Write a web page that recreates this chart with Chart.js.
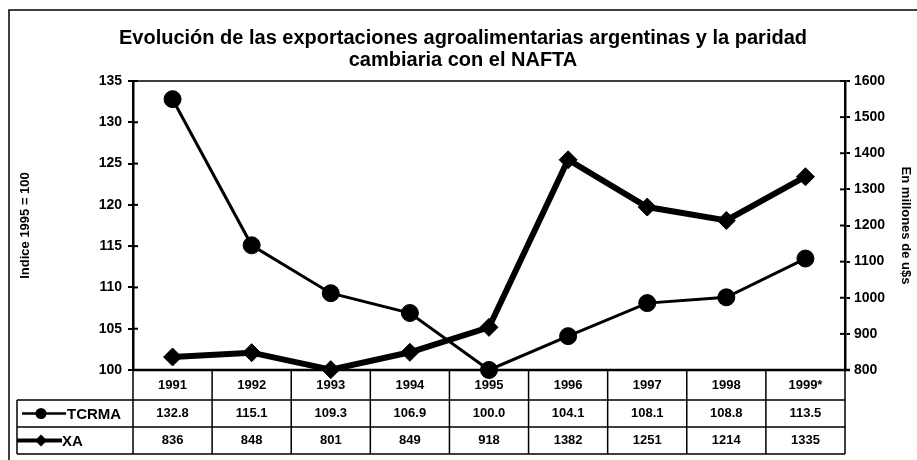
<!DOCTYPE html>
<html>
<head>
<meta charset="utf-8">
<script src="https://cdn.jsdelivr.net/npm/chart.js@4.4.0/dist/chart.umd.min.js"></script>
<style>
  html, body { margin: 0; padding: 0; background: #fff; }
</style>
</head>
<body>
<canvas id="myChart" width="917" height="460"></canvas>
<script>
const years = ["1991", "1992", "1993", "1994", "1995", "1996", "1997", "1998", "1999*"];
const tcrma = [132.8, 115.1, 109.3, 106.9, 100.0, 104.1, 108.1, 108.8, 113.5];
const xa = [836, 848, 801, 849, 918, 1382, 1251, 1214, 1335];
const titleLines = [
  "Evolución de las exportaciones agroalimentarias argentinas y la paridad",
  "cambiaria con el NAFTA"
];

const FONT = "'Liberation Sans', Arial, sans-serif";
Chart.defaults.color = "#000";
Chart.defaults.font.family = FONT;

// data table under the plot, drawn from the category scale
const tablePlugin = {
  id: "dataTable",
  beforeDatasetsDraw(chart) {
    const ctx = chart.ctx;
    const area = chart.chartArea;
    const x = chart.scales.x;
    const rows = [area.bottom, area.bottom + 30, area.bottom + 57, area.bottom + 84];
    const legendLeft = 17;

    let edges = [area.left];
    for (let i = 1; i < years.length; i++) {
      edges.push((x.getPixelForValue(i - 1) + x.getPixelForValue(i)) / 2);
    }
    edges.push(area.right);

    ctx.save();
    ctx.strokeStyle = "#000";

    // outer frame of the picture
    ctx.lineWidth = 1.5;
    ctx.beginPath();
    ctx.moveTo(9, 460);
    ctx.lineTo(9, 10);
    ctx.lineTo(917, 10);
    ctx.stroke();

    // top of plot area
    ctx.beginPath();
    ctx.moveTo(area.left, area.top);
    ctx.lineTo(area.right, area.top);
    ctx.stroke();

    // inner tick marks
    ctx.lineWidth = 2;
    chart.scales.y.ticks.forEach((t) => {
      let py = chart.scales.y.getPixelForValue(t.value);
      ctx.beginPath();
      ctx.moveTo(area.left, py);
      ctx.lineTo(area.left + 5, py);
      ctx.stroke();
    });
    chart.scales.y1.ticks.forEach((t) => {
      let py = chart.scales.y1.getPixelForValue(t.value);
      ctx.beginPath();
      ctx.moveTo(area.right - 5, py);
      ctx.lineTo(area.right, py);
      ctx.stroke();
    });

    // table lines
    ctx.lineWidth = 1.5;
    ctx.beginPath();
    ctx.moveTo(legendLeft, rows[1]);
    ctx.lineTo(area.right, rows[1]);
    ctx.moveTo(legendLeft, rows[2]);
    ctx.lineTo(area.right, rows[2]);
    ctx.moveTo(legendLeft, rows[3]);
    ctx.lineTo(area.right, rows[3]);
    ctx.moveTo(legendLeft, rows[1]);
    ctx.lineTo(legendLeft, rows[3]);
    edges.forEach((ex) => {
      ctx.moveTo(ex, rows[0]);
      ctx.lineTo(ex, rows[3]);
    });
    ctx.stroke();

    // bottom axis line
    ctx.lineWidth = 2.5;
    ctx.beginPath();
    ctx.moveTo(area.left, area.bottom);
    ctx.lineTo(area.right + 5, area.bottom);
    ctx.stroke();

    // cell texts
    ctx.fillStyle = "#000";
    ctx.textAlign = "center";
    ctx.textBaseline = "middle";
    ctx.font = "bold 13px " + FONT;
    for (let i = 0; i < years.length; i++) {
      let cx = x.getPixelForValue(i);
      ctx.fillText(years[i], cx, (rows[0] + rows[1]) / 2);
      ctx.fillText(tcrma[i].toFixed(1), cx, (rows[1] + rows[2]) / 2);
      ctx.fillText(String(xa[i]), cx, (rows[2] + rows[3]) / 2);
    }

    // legend keys
    let y1 = (rows[1] + rows[2]) / 2;
    let y2 = (rows[2] + rows[3]) / 2;
    ctx.lineWidth = 2.5;
    ctx.beginPath();
    ctx.moveTo(22, y1);
    ctx.lineTo(66, y1);
    ctx.stroke();
    ctx.beginPath();
    ctx.arc(41, y1, 5.5, 0, Math.PI * 2);
    ctx.fill();
    ctx.lineWidth = 4;
    ctx.beginPath();
    ctx.moveTo(legendLeft, y2);
    ctx.lineTo(62, y2);
    ctx.stroke();
    ctx.beginPath();
    ctx.moveTo(41, y2 - 6);
    ctx.lineTo(47, y2);
    ctx.lineTo(41, y2 + 6);
    ctx.lineTo(35, y2);
    ctx.closePath();
    ctx.fill();
    ctx.textAlign = "left";
    ctx.font = "bold 15px " + FONT;
    ctx.fillText(chart.data.datasets[0].label, 67, y1 + 1);
    ctx.fillText(chart.data.datasets[1].label, 62, y2 + 1);
    ctx.restore();
  }
};

const ctx = document.getElementById("myChart").getContext("2d");
new Chart(ctx, {
  type: "line",
  data: {
    labels: years,
    datasets: [
      {
        label: "TCRMA",
        data: tcrma,
        yAxisID: "y",
        borderColor: "#000",
        backgroundColor: "#000",
        borderWidth: 3,
        pointStyle: "circle",
        pointRadius: 8.5,
        pointBorderWidth: 1,
        tension: 0,
        clip: false
      },
      {
        label: "XA",
        data: xa,
        yAxisID: "y1",
        borderColor: "#000",
        backgroundColor: "#000",
        borderWidth: 6,
        pointStyle: "rectRot",
        pointRadius: 9,
        pointBorderWidth: 1,
        tension: 0,
        clip: false
      }
    ]
  },
  options: {
    responsive: false,
    animation: false,
    devicePixelRatio: 1,
    layout: { padding: { left: 9, right: 0, top: 10, bottom: 90 } },
    plugins: {
      legend: { display: false },
      tooltip: { enabled: false },
      title: {
        display: true,
        text: titleLines,
        color: "#000",
        font: { size: 20, weight: "bold", lineHeight: 1.1 },
        padding: { top: 17, bottom: 10 }
      }
    },
    scales: {
      x: {
        type: "category",
        offset: true,
        display: false
      },
      y: {
        position: "left",
        min: 100,
        max: 135,
        afterFit: (s) => { s.width = 124; },
        ticks: { stepSize: 5, font: { size: 14, weight: "bold" }, padding: 6 },
        grid: { drawOnChartArea: false, color: "#000", lineWidth: 2, tickLength: 5 },
        border: { color: "#000", width: 2.5 },
        title: {
          display: true,
          text: "Indice 1995 = 100",
          font: { size: 13, weight: "bold" },
          padding: { top: 9, bottom: 0 }
        }
      },
      y1: {
        position: "right",
        min: 800,
        max: 1600,
        afterFit: (s) => { s.width = 72; },
        ticks: {
          stepSize: 100,
          font: { size: 14, weight: "bold" },
          padding: 4,
          callback: (v) => String(v)
        },
        grid: { drawOnChartArea: false, color: "#000", lineWidth: 2, tickLength: 5 },
        border: { color: "#000", width: 2.5 },
        title: {
          display: true,
          text: "En millones de u$s",
          font: { size: 13, weight: "bold" },
          padding: { top: 4, bottom: 0 }
        }
      }
    }
  },
  plugins: [tablePlugin]
});
</script>
</body>
</html>
